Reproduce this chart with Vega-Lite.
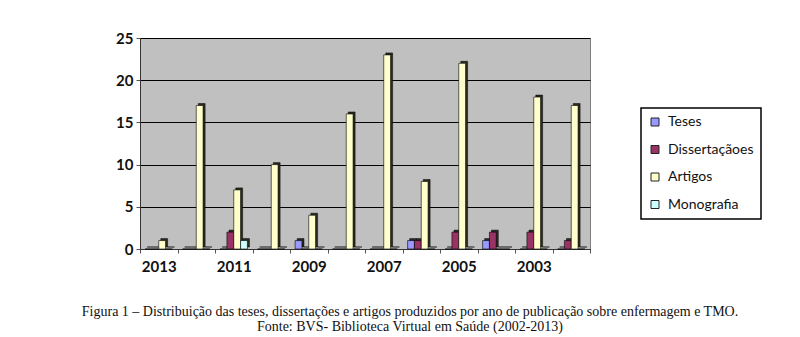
{
  "$schema": "https://vega.github.io/schema/vega-lite/v6.json",
  "width": 450,
  "height": 211,
  "autosize": {"type": "none"},
  "padding": {"left": 140, "top": 38, "right": 210, "bottom": 88},
  "background": "#ffffff",
  "title": {
    "text": [
      "Figura 1 – Distribuição das teses, dissertações e artigos produzidos por ano de publicação sobre enfermagem e TMO.",
      "Fonte: BVS- Biblioteca Virtual em Saúde (2002-2013)"
    ],
    "orient": "bottom",
    "anchor": "middle",
    "font": "Liberation Serif",
    "fontSize": 14,
    "fontWeight": "normal",
    "color": "#111111",
    "lineHeight": 15,
    "offset": 31,
    "dx": 45
  },
  "data": {
    "values": [
      {"ano": "2013", "tipo": "Teses", "n": 0},
      {"ano": "2013", "tipo": "Dissertaçãoes", "n": 0},
      {"ano": "2013", "tipo": "Artigos", "n": 1},
      {"ano": "2013", "tipo": "Monografia", "n": 0},
      {"ano": "2012", "tipo": "Teses", "n": 0},
      {"ano": "2012", "tipo": "Dissertaçãoes", "n": 0},
      {"ano": "2012", "tipo": "Artigos", "n": 17},
      {"ano": "2012", "tipo": "Monografia", "n": 0},
      {"ano": "2011", "tipo": "Teses", "n": 0},
      {"ano": "2011", "tipo": "Dissertaçãoes", "n": 2},
      {"ano": "2011", "tipo": "Artigos", "n": 7},
      {"ano": "2011", "tipo": "Monografia", "n": 1},
      {"ano": "2010", "tipo": "Teses", "n": 0},
      {"ano": "2010", "tipo": "Dissertaçãoes", "n": 0},
      {"ano": "2010", "tipo": "Artigos", "n": 10},
      {"ano": "2010", "tipo": "Monografia", "n": 0},
      {"ano": "2009", "tipo": "Teses", "n": 1},
      {"ano": "2009", "tipo": "Dissertaçãoes", "n": 0},
      {"ano": "2009", "tipo": "Artigos", "n": 4},
      {"ano": "2009", "tipo": "Monografia", "n": 0},
      {"ano": "2008", "tipo": "Teses", "n": 0},
      {"ano": "2008", "tipo": "Dissertaçãoes", "n": 0},
      {"ano": "2008", "tipo": "Artigos", "n": 16},
      {"ano": "2008", "tipo": "Monografia", "n": 0},
      {"ano": "2007", "tipo": "Teses", "n": 0},
      {"ano": "2007", "tipo": "Dissertaçãoes", "n": 0},
      {"ano": "2007", "tipo": "Artigos", "n": 23},
      {"ano": "2007", "tipo": "Monografia", "n": 0},
      {"ano": "2006", "tipo": "Teses", "n": 1},
      {"ano": "2006", "tipo": "Dissertaçãoes", "n": 1},
      {"ano": "2006", "tipo": "Artigos", "n": 8},
      {"ano": "2006", "tipo": "Monografia", "n": 0},
      {"ano": "2005", "tipo": "Teses", "n": 0},
      {"ano": "2005", "tipo": "Dissertaçãoes", "n": 2},
      {"ano": "2005", "tipo": "Artigos", "n": 22},
      {"ano": "2005", "tipo": "Monografia", "n": 0},
      {"ano": "2004", "tipo": "Teses", "n": 1},
      {"ano": "2004", "tipo": "Dissertaçãoes", "n": 2},
      {"ano": "2004", "tipo": "Artigos", "n": 0},
      {"ano": "2004", "tipo": "Monografia", "n": 0},
      {"ano": "2003", "tipo": "Teses", "n": 0},
      {"ano": "2003", "tipo": "Dissertaçãoes", "n": 2},
      {"ano": "2003", "tipo": "Artigos", "n": 18},
      {"ano": "2003", "tipo": "Monografia", "n": 0},
      {"ano": "2002", "tipo": "Teses", "n": 0},
      {"ano": "2002", "tipo": "Dissertaçãoes", "n": 1},
      {"ano": "2002", "tipo": "Artigos", "n": 17},
      {"ano": "2002", "tipo": "Monografia", "n": 0}
    ]
  },
  "encoding": {
    "x": {
      "field": "ano",
      "type": "nominal",
      "title": null,
      "scale": {
        "domain": ["2013", "2012", "2011", "2010", "2009", "2008", "2007", "2006", "2005", "2004", "2003", "2002"],
        "paddingInner": 0,
        "paddingOuter": 0
      },
      "axis": {
        "labelAngle": 0,
        "labelOverlap": false,
        "labelExpr": "indexof(['2013','2011','2009','2007','2005','2003'], datum.value) >= 0 ? datum.label : ''",
        "tickBand": "extent",
        "tickSize": 4,
        "tickColor": "#555555",
        "domainColor": "#333333",
        "labelFont": "Lato",
        "labelFontWeight": "bold",
        "labelFontSize": 15,
        "labelColor": "#111111",
        "labelPadding": 6
      }
    },
    "y": {
      "field": "n",
      "type": "quantitative",
      "title": null,
      "scale": {"domain": [0, 25], "nice": false},
      "axis": {
        "values": [0, 5, 10, 15, 20, 25],
        "grid": true,
        "gridColor": "#000000",
        "gridWidth": 1,
        "gridOpacity": 1,
        "tickSize": 4,
        "tickColor": "#555555",
        "domainColor": "#333333",
        "labelFont": "Lato",
        "labelFontWeight": "bold",
        "labelFontSize": 15,
        "labelColor": "#111111",
        "labelPadding": 3
      }
    }
  },
  "layer": [
    {
      "mark": {"type": "bar", "fill": "#2b2b20", "yOffset": -2, "stroke": "#000000", "strokeWidth": 0.5},
      "encoding": {
        "xOffset": {
          "field": "tipo",
          "type": "nominal",
          "scale": {
            "domain": ["Teses", "Dissertaçãoes", "Artigos", "Monografia"],
            "paddingInner": 0,
            "paddingOuter": 0.75,
            "align": 0.7
          }
        }
      }
    },
    {
      "mark": {"type": "bar", "stroke": "#000000", "strokeWidth": 0.6},
      "encoding": {
        "xOffset": {
          "field": "tipo",
          "type": "nominal",
          "scale": {
            "domain": ["Teses", "Dissertaçãoes", "Artigos", "Monografia"],
            "paddingInner": 0,
            "paddingOuter": 0.75,
            "align": 0.5
          }
        },
        "color": {
          "field": "tipo",
          "type": "nominal",
          "scale": {
            "domain": ["Teses", "Dissertaçãoes", "Artigos", "Monografia"],
            "range": ["#9999ff", "#993366", "#ffffcc", "#ccffff"]
          },
          "legend": {
            "title": null,
            "orient": "none",
            "legendX": 501,
            "legendY": 70,
            "symbolType": "square",
            "symbolSize": 64,
            "symbolStrokeColor": "#222222",
            "symbolStrokeWidth": 1,
            "labelFont": "Lato",
            "labelFontSize": 14,
            "labelColor": "#111111",
            "labelOffset": 6,
            "rowPadding": 13.5,
            "padding": 7,
            "fillColor": "#ffffff",
            "strokeColor": "#000000"
          }
        }
      }
    }
  ],
  "resolve": {"scale": {"xOffset": "independent"}},
  "config": {
    "view": {"fill": "#c0c0c0", "stroke": "#808080", "strokeWidth": 1},
    "legend": {"strokeWidth": 1.5}
  }
}
